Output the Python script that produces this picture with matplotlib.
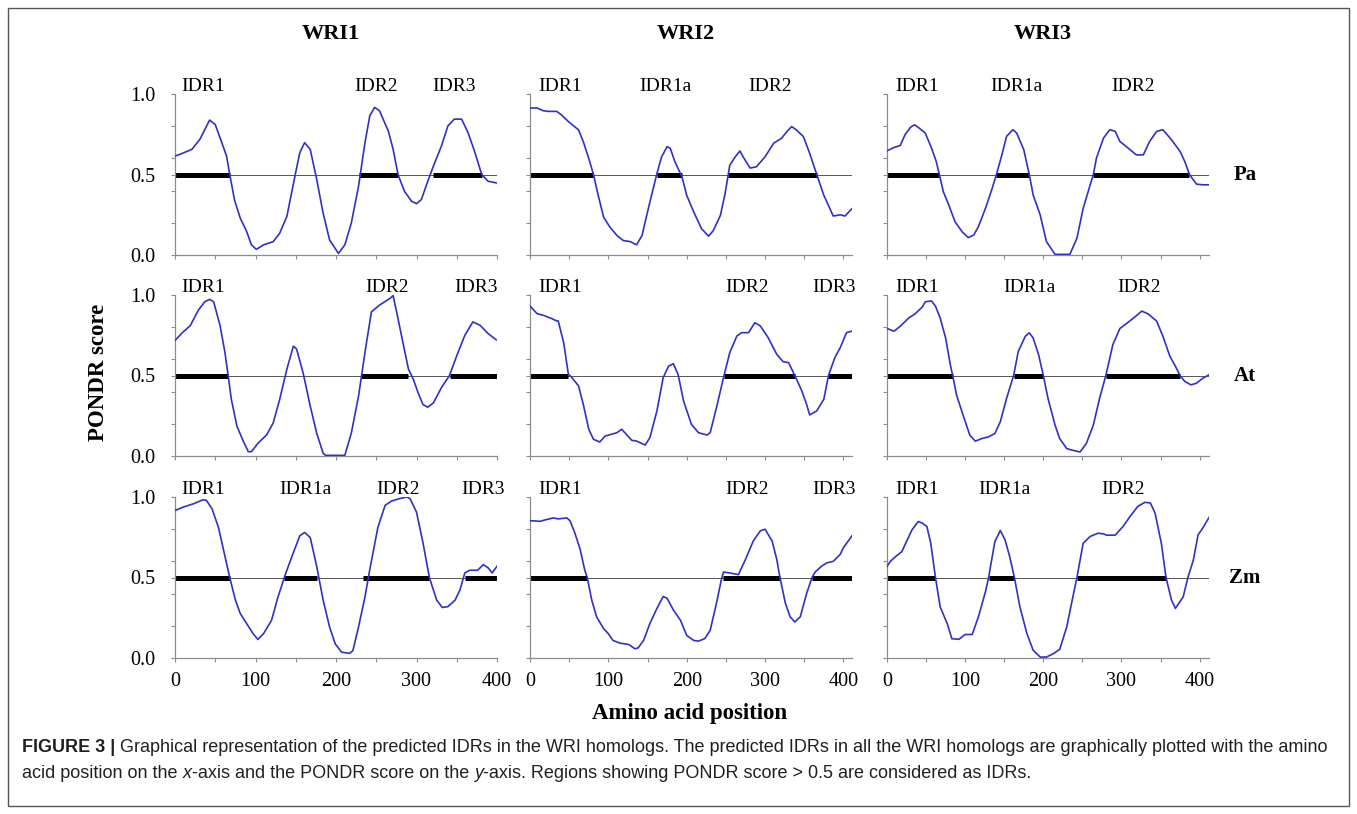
import matplotlib
matplotlib.use("Agg")
import matplotlib.pyplot as plt
import matplotlib.transforms as mtransforms
from matplotlib import font_manager
from matplotlib.patches import Rectangle

# ---- data (amino acid position, PONDR score) ----
wri1_pa_pos = [0, 6, 21, 31, 43, 50, 58, 64, 68, 74, 81, 89, 95, 101, 110, 122, 130, 139, 149, 155,
               161, 168, 176, 184, 192, 203, 211, 219, 228, 236, 242, 248, 254, 265, 271, 277, 285, 294,
               300, 306, 314, 321, 331, 339, 347, 356, 364, 372, 381, 389, 399]
wri1_pa_score = [0.615, 0.625, 0.656, 0.719, 0.838, 0.81, 0.70, 0.615, 0.5, 0.34, 0.23, 0.146, 0.063,
                 0.035, 0.063, 0.083, 0.135, 0.24, 0.49, 0.635, 0.698, 0.656, 0.47, 0.26, 0.094, 0.01,
                 0.063, 0.198, 0.427, 0.698, 0.865, 0.917, 0.896, 0.77, 0.656, 0.5, 0.396, 0.333, 0.319,
                 0.344, 0.458, 0.552, 0.677, 0.802, 0.844, 0.844, 0.76, 0.646, 0.5, 0.458, 0.448]

wri1_at_pos = [0, 10, 19, 29, 37, 43, 48, 56, 62, 66, 70, 77, 85, 91, 95, 103, 114, 122, 130, 139,
               147, 151, 159, 168, 176, 184, 187, 211, 219, 228, 236, 244, 254, 267, 271, 277, 283, 290,
               296, 302, 308, 314, 321, 331, 341, 350, 360, 370, 379, 389, 399]
wri1_at_score = [0.718, 0.77, 0.81, 0.906, 0.958, 0.973, 0.958, 0.81, 0.644, 0.5, 0.351, 0.184, 0.09,
                 0.027, 0.027, 0.079, 0.132, 0.205, 0.351, 0.54, 0.682, 0.665, 0.519, 0.31, 0.142, 0.017,
                 0.004, 0.004, 0.142, 0.372, 0.644, 0.895, 0.937, 0.979, 0.996, 0.854, 0.707, 0.54, 0.477,
                 0.393, 0.32, 0.303, 0.33, 0.425, 0.5, 0.623, 0.749, 0.833, 0.812, 0.76, 0.722]

wri1_zm_pos = [0, 10, 23, 35, 39, 46, 54, 62, 68, 75, 81, 89, 97, 103, 110, 120, 128, 137, 147, 155,
               161, 168, 176, 184, 192, 199, 207, 217, 221, 228, 236, 242, 252, 261, 269, 279, 288, 292,
               300, 308, 316, 325, 332, 339, 348, 354, 360, 366, 376, 383, 389, 394, 400]
wri1_zm_score = [0.916, 0.937, 0.958, 0.983, 0.979, 0.927, 0.811, 0.633, 0.5, 0.36, 0.277, 0.214, 0.151,
                 0.115, 0.151, 0.235, 0.38, 0.518, 0.654, 0.759, 0.78, 0.748, 0.57, 0.36, 0.193, 0.088,
                 0.036, 0.029, 0.046, 0.193, 0.38, 0.55, 0.811, 0.948, 0.975, 0.99, 1.0, 0.99, 0.906,
                 0.717, 0.5, 0.36, 0.314, 0.319, 0.36, 0.423, 0.528, 0.545, 0.545, 0.58, 0.56, 0.528, 0.57]

wri2_pa_pos = [0, 9, 17, 23, 34, 40, 49, 62, 68, 75, 81, 87, 94, 102, 111, 119, 128, 136, 143, 151,
               162, 168, 175, 179, 185, 194, 200, 209, 219, 228, 234, 243, 249, 255, 262, 268, 272, 281,
               289, 300, 311, 321, 328, 334, 340, 349, 357, 366, 375, 381, 387, 396, 402, 411]
wri2_pa_score = [0.913, 0.913, 0.896, 0.892, 0.892, 0.871, 0.829, 0.777, 0.704, 0.6, 0.5, 0.371, 0.235,
                 0.173, 0.121, 0.09, 0.083, 0.063, 0.121, 0.288, 0.506, 0.61, 0.673, 0.663, 0.579, 0.485,
                 0.371, 0.267, 0.163, 0.117, 0.152, 0.246, 0.381, 0.558, 0.61, 0.646, 0.61, 0.54, 0.548,
                 0.61, 0.694, 0.725, 0.767, 0.798, 0.777, 0.735, 0.631, 0.5, 0.371, 0.308, 0.242, 0.25,
                 0.242, 0.288]

wri2_at_pos = [0, 9, 17, 28, 34, 36, 43, 49, 53, 62, 68, 75, 81, 89, 96, 104, 111, 117, 121, 130,
               136, 147, 153, 162, 170, 177, 183, 189, 196, 206, 215, 226, 230, 238, 247, 255, 264, 270,
               279, 287, 294, 304, 315, 323, 330, 338, 347, 353, 357, 366, 375, 381, 389, 396, 404, 411]
wri2_at_score = [0.932, 0.884, 0.874, 0.853, 0.839, 0.839, 0.703, 0.507, 0.49, 0.435, 0.321, 0.166,
                 0.104, 0.087, 0.124, 0.135, 0.145, 0.166, 0.145, 0.097, 0.093, 0.068, 0.114, 0.28, 0.487,
                 0.559, 0.573, 0.507, 0.342, 0.197, 0.145, 0.13, 0.145, 0.3, 0.487, 0.642, 0.745, 0.766,
                 0.766, 0.828, 0.808, 0.735, 0.631, 0.586, 0.58, 0.5, 0.404, 0.321, 0.255, 0.28, 0.352,
                 0.5, 0.61, 0.673, 0.766, 0.776]

wri2_zm_pos = [0, 13, 21, 30, 36, 47, 51, 57, 64, 70, 73, 79, 85, 94, 100, 106, 115, 126, 134, 138,
               145, 153, 162, 170, 175, 183, 192, 200, 209, 215, 223, 230, 238, 244, 247, 255, 266, 275,
               285, 294, 300, 309, 315, 319, 326, 332, 338, 345, 353, 360, 364, 372, 379, 387, 396, 400, 411]
wri2_zm_score = [0.853, 0.849, 0.86, 0.87, 0.864, 0.87, 0.853, 0.78, 0.675, 0.544, 0.5, 0.356, 0.256,
                 0.182, 0.151, 0.109, 0.092, 0.084, 0.057, 0.063, 0.109, 0.214, 0.308, 0.382, 0.371, 0.298,
                 0.235, 0.14, 0.109, 0.105, 0.12, 0.172, 0.34, 0.481, 0.534, 0.528, 0.518, 0.612, 0.727,
                 0.79, 0.8, 0.727, 0.612, 0.5, 0.34, 0.256, 0.224, 0.256, 0.4, 0.5, 0.534, 0.57, 0.591,
                 0.6, 0.644, 0.685, 0.759]

wri3_pa_pos = [0, 9, 17, 23, 30, 35, 40, 49, 57, 63, 67, 72, 79, 87, 96, 104, 111, 117, 126, 134,
               140, 147, 153, 161, 166, 175, 182, 187, 196, 204, 215, 234, 243, 251, 260, 264, 268, 277,
               285, 292, 298, 306, 319, 328, 336, 345, 353, 364, 375, 381, 387, 396, 404, 412]
wri3_pa_score = [0.647, 0.668, 0.68, 0.747, 0.793, 0.809, 0.793, 0.757, 0.664, 0.581, 0.5, 0.394, 0.311,
                 0.207, 0.145, 0.108, 0.124, 0.176, 0.29, 0.405, 0.5, 0.622, 0.737, 0.778, 0.757, 0.654,
                 0.5, 0.373, 0.249, 0.083, 0.004, 0.004, 0.104, 0.29, 0.436, 0.5, 0.602, 0.726, 0.778,
                 0.768, 0.705, 0.674, 0.622, 0.622, 0.705, 0.768, 0.778, 0.716, 0.643, 0.581, 0.5, 0.44,
                 0.436, 0.436]

wri3_at_pos = [0, 9, 17, 28, 36, 45, 49, 57, 62, 68, 75, 81, 84, 89, 98, 106, 113, 121, 130, 138,
               145, 153, 162, 168, 177, 182, 187, 194, 200, 206, 215, 221, 230, 238, 247, 255, 264, 272,
               280, 289, 298, 306, 317, 326, 334, 345, 353, 362, 368, 375, 381, 389, 396, 404, 412]
wri3_at_score = [0.792, 0.775, 0.806, 0.858, 0.883, 0.925, 0.958, 0.963, 0.931, 0.858, 0.733, 0.567,
                 0.5, 0.379, 0.244, 0.129, 0.092, 0.108, 0.119, 0.14, 0.213, 0.358, 0.5, 0.65, 0.744,
                 0.765, 0.733, 0.629, 0.5, 0.358, 0.192, 0.108, 0.046, 0.035, 0.025, 0.077, 0.192, 0.358,
                 0.5, 0.692, 0.792, 0.821, 0.863, 0.9, 0.883, 0.838, 0.744, 0.619, 0.567, 0.5, 0.463,
                 0.442, 0.452, 0.483, 0.504]

wri3_zm_pos = [0, 4, 11, 19, 26, 32, 40, 45, 51, 56, 62, 68, 77, 83, 92, 100, 109, 117, 126, 130,
               138, 145, 151, 157, 163, 170, 179, 187, 196, 204, 213, 221, 230, 237, 243, 251, 260, 270,
               277, 281, 292, 302, 311, 321, 330, 337, 343, 351, 357, 364, 369, 379, 385, 392, 398, 404, 412]
wri3_zm_score = [0.568, 0.599, 0.63, 0.661, 0.734, 0.796, 0.848, 0.838, 0.817, 0.713, 0.5, 0.318, 0.214,
                 0.12, 0.116, 0.146, 0.146, 0.256, 0.412, 0.5, 0.723, 0.792, 0.734, 0.63, 0.5, 0.318,
                 0.152, 0.048, 0.006, 0.006, 0.027, 0.054, 0.193, 0.36, 0.5, 0.713, 0.755, 0.775, 0.771,
                 0.763, 0.763, 0.817, 0.879, 0.942, 0.967, 0.963, 0.9, 0.713, 0.5, 0.36, 0.308, 0.38,
                 0.5, 0.609, 0.765, 0.807, 0.873]

# predicted IDR stretches (start, end) and their label positions
wri1_pa_idr = [(0, 68), (229, 277), (320, 381)]
wri1_at_idr = [(0, 66), (231, 289), (341, 400)]
wri1_zm_idr = [(0, 68), (136, 176), (233, 316), (360, 400)]
wri2_pa_idr = [(0, 81), (162, 194), (253, 366)]
wri2_at_idr = [(0, 49), (248, 338), (381, 411)]
wri2_zm_idr = [(0, 73), (246, 319), (360, 411)]
wri3_pa_idr = [(0, 67), (140, 182), (264, 387)]
wri3_at_idr = [(0, 84), (162, 200), (280, 375)]
wri3_zm_idr = [(0, 62), (130, 163), (243, 357)]

wri1_pa_labels = [("IDR1", 8), ("IDR2", 223), ("IDR3", 320)]
wri1_at_labels = [("IDR1", 8), ("IDR2", 236), ("IDR3", 347)]
wri1_zm_labels = [("IDR1", 8), ("IDR1a", 130), ("IDR2", 250), ("IDR3", 356)]
wri2_pa_labels = [("IDR1", 10), ("IDR1a", 140), ("IDR2", 279)]
wri2_at_labels = [("IDR1", 10), ("IDR2", 249), ("IDR3", 360)]
wri2_zm_labels = [("IDR1", 10), ("IDR2", 249), ("IDR3", 360)]
wri3_pa_labels = [("IDR1", 10), ("IDR1a", 132), ("IDR2", 287)]
wri3_at_labels = [("IDR1", 10), ("IDR1a", 149), ("IDR2", 294)]
wri3_zm_labels = [("IDR1", 10), ("IDR1a", 117), ("IDR2", 274)]

proteins = ["WRI1", "WRI2", "WRI3"]
species = ["Pa", "At", "Zm"]
protein_len = [400, 411, 412]
x_ticks = [0, 100, 200, 300, 400]
y_ticks = [0.0, 0.5, 1.0]
threshold = 0.5

panels = [
    [(wri1_pa_pos, wri1_pa_score, wri1_pa_idr, wri1_pa_labels),
     (wri2_pa_pos, wri2_pa_score, wri2_pa_idr, wri2_pa_labels),
     (wri3_pa_pos, wri3_pa_score, wri3_pa_idr, wri3_pa_labels)],
    [(wri1_at_pos, wri1_at_score, wri1_at_idr, wri1_at_labels),
     (wri2_at_pos, wri2_at_score, wri2_at_idr, wri2_at_labels),
     (wri3_at_pos, wri3_at_score, wri3_at_idr, wri3_at_labels)],
    [(wri1_zm_pos, wri1_zm_score, wri1_zm_idr, wri1_zm_labels),
     (wri2_zm_pos, wri2_zm_score, wri2_zm_idr, wri2_zm_labels),
     (wri3_zm_pos, wri3_zm_score, wri3_zm_idr, wri3_zm_labels)],
]

plt.rcParams['font.family'] = ['Liberation Serif', 'DejaVu Serif']

W, H = 1357, 814
fig = plt.figure(figsize=(W / 100, H / 100), dpi=100)


def px_axes(left, top, width, height):
    return fig.add_axes([left / W, 1 - (top + height) / H, width / W, height / H])


# background axes for frame and caption
bg = fig.add_axes([0, 0, 1, 1])
bg.set_xlim(0, W)
bg.set_ylim(H, 0)
bg.axis("off")
bg.add_patch(Rectangle((8, 8), 1341, 798, fill=False, edgecolor="#555555", lw=1.0))

col_left = [175, 530, 887]
row_top = [94, 295, 497]
pw, ph = 322, 161
gray = "#8c8c8c"

for r in range(3):
    for c in range(3):
        pos, score, idrs, labels = panels[r][c]
        ax = px_axes(col_left[c], row_top[r], pw, ph)
        ax.plot(pos, score, color="#3030c8", lw=1.2, zorder=3)
        ax.axhline(threshold, color="#555555", lw=0.7, zorder=1)
        for s, e in idrs:
            ax.plot([s, e], [threshold, threshold], color="black", lw=3.6,
                    solid_capstyle="butt", zorder=2)
        trans = mtransforms.blended_transform_factory(ax.transData, ax.transAxes)
        for name, x in labels:
            ax.text(x, 1.02, name, transform=trans, ha="left", va="baseline", fontsize=14)
        ax.set_xlim(0, protein_len[c])
        ax.set_ylim(0, 1.0)
        ax.set_xticks(x_ticks)
        ax.set_xticks(range(50, protein_len[c], 100), minor=True)
        ax.set_yticks(y_ticks)
        ax.set_yticklabels(["%.1f" % v for v in y_ticks])
        ax.set_yticks([0.2, 0.4, 0.6, 0.8], minor=True)
        for side in ["top", "right"]:
            ax.spines[side].set_visible(False)
        for side in ["left", "bottom"]:
            ax.spines[side].set_color(gray)
            ax.spines[side].set_linewidth(0.9)
        ax.tick_params(which="both", direction="out", length=3, width=0.8, color=gray,
                       labelsize=14.5)
        ax.tick_params(axis="y", pad=11, labelleft=(c == 0))
        ax.tick_params(axis="x", pad=7, labelbottom=(r == 2))
        ax.patch.set_alpha(0)

# column titles, row labels and axis titles
for c, name in enumerate(proteins):
    bg.text(col_left[c] + pw / 2 - 5, 34, name, ha="center", va="center",
            fontsize=16, fontweight="bold")
for r, name in enumerate(species):
    bg.text(1245, row_top[r] + 81, name, ha="center", va="center",
            fontsize=15, fontweight="bold")
bg.text(98, 372, "PONDR score", rotation=90, ha="center", va="center",
        fontsize=16.5, fontweight="bold")
bg.text(690, 714, "Amino acid position", ha="center", va="center",
        fontsize=16.5, fontweight="bold")

# caption
try:
    font_manager.findfont("Liberation Sans Narrow", fallback_to_default=False)
    cap_family = ["Liberation Sans Narrow", "DejaVu Sans"]
    cap_size = 15.5
except ValueError:
    cap_family = ["Liberation Sans", "DejaVu Sans"]
    cap_size = 13.0
cap_color = "#231f20"


def caption_line(x, y, pieces):
    txt, weight, style = pieces[0]
    t = bg.text(x, y, txt, ha="left", va="center", fontsize=cap_size, family=cap_family,
                fontweight=weight, fontstyle=style, color=cap_color)
    for txt, weight, style in pieces[1:]:
        t = bg.annotate(txt, xy=(1, 0), xycoords=t, va="bottom", ha="left",
                        fontsize=cap_size, family=cap_family, fontweight=weight,
                        fontstyle=style, color=cap_color)


caption_line(22, 748, [
    ("FIGURE 3 |", "bold", "normal"),
    (" Graphical representation of the predicted IDRs in the WRI homologs. The predicted IDRs "
     "in all the WRI homologs are graphically plotted with the amino", "normal", "normal"),
])
caption_line(22, 773, [
    ("acid position on the ", "normal", "normal"),
    ("x", "normal", "italic"),
    ("-axis and the PONDR score on the ", "normal", "normal"),
    ("y", "normal", "italic"),
    ("-axis. Regions showing PONDR score > 0.5 are considered as IDRs.", "normal", "normal"),
])

fig.savefig("out.png", dpi=100)
